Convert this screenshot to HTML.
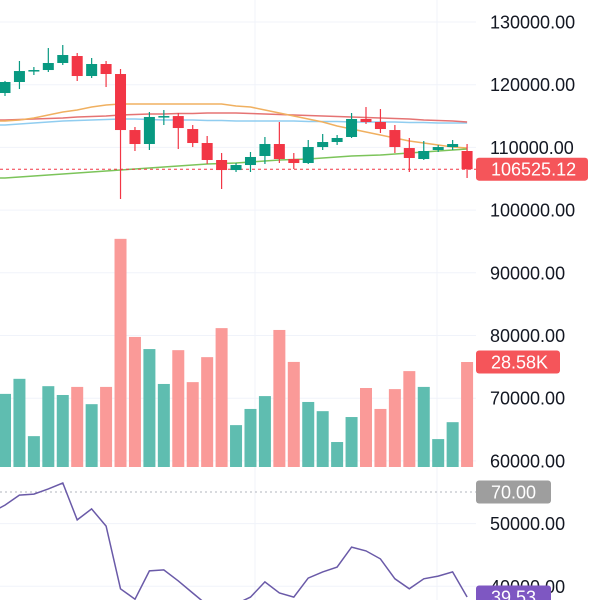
<!DOCTYPE html>
<html><head><meta charset="utf-8">
<style>
html,body{margin:0;padding:0;background:#fff;}
svg{display:block;font-family:"Liberation Sans",sans-serif;}
</style></head>
<body>
<svg id="chart" width="600" height="600" viewBox="0 0 600 600" xmlns="http://www.w3.org/2000/svg">
<rect width="600" height="600" fill="#ffffff"/>
<g id="grid"></g>
<g id="volume"></g>
<g id="mas"></g>
<g id="candles"></g>
<g id="rsi"></g>
<g id="axis"></g>
</svg>
<script>
// price data (OHLC)
const opens  = [118675,120430,122100,122340,123460,124575,121385,123300,121705,112770,110540,114850,115000,112930,110700,107990,106390,107190,108630,110540,108150,107510,110060,110860,111660,114530,114050,112770,109900,108150,109585,110060,109425];
const highs  = [120600,123780,122820,125850,126330,125055,124260,123780,122500,113250,115645,115960,115485,113570,111820,109105,107510,109265,111660,114050,109105,111180,112140,111980,115485,116440,116120,113570,111500,111020,110380,111180,110540];
const lows   = [118200,119310,121545,122025,123140,120590,121070,119630,101770,109425,109585,113570,109740,110060,107350,103365,106075,106075,107350,107510,106550,107350,109585,110380,111500,113730,112300,109105,106075,107990,109265,109585,105120];
const closes = [120430,122180,122340,123460,124735,121385,123300,121705,112770,110540,114850,115000,113090,110700,107990,106390,107190,108470,110540,108150,107510,110060,110860,111500,114530,114050,112930,110060,108310,109425,110060,110540,106525];
// volume in K
const volumes = [19.9,24.0,8.4,22.0,19.6,21.8,17.1,21.8,62.1,35.4,32.1,22.6,31.8,23.1,29.9,37.8,11.4,15.8,19.3,37.3,28.6,17.7,15.2,6.8,13.6,21.5,15.8,21.2,26.1,21.8,7.6,12.2,28.58];
// moving averages in thousands
const maOrange = [114.21,114.37,114.69,115.17,115.65,115.96,116.44,116.76,116.92,116.92,116.92,116.92,116.92,116.92,116.92,116.92,116.60,116.44,115.96,115.49,115.01,114.53,114.05,113.41,112.93,112.46,111.98,111.50,111.02,110.70,110.38,110.06,109.90];
const maRed    = [114.37,114.45,114.53,114.61,114.69,114.85,114.93,115.01,115.17,115.25,115.33,115.33,115.41,115.41,115.49,115.49,115.49,115.41,115.33,115.25,115.17,115.09,115.01,114.93,114.85,114.77,114.69,114.61,114.53,114.37,114.29,114.21,114.05];
const maBlue   = [113.57,113.73,113.89,114.05,114.21,114.29,114.37,114.45,114.53,114.53,114.45,114.37,114.37,114.37,114.29,114.29,114.21,114.21,114.21,114.21,114.21,114.13,114.13,114.13,114.05,114.05,114.05,114.05,113.97,113.97,113.89,113.89,113.89];
const maGreen  = [105.12,105.28,105.44,105.60,105.76,105.92,106.08,106.23,106.39,106.55,106.71,106.87,107.03,107.19,107.35,107.43,107.51,107.67,107.83,107.99,108.07,108.15,108.31,108.47,108.63,108.71,108.79,108.95,109.11,109.27,109.43,109.59,109.74];
// RSI
const rsiValues = [66.2,69.1,69.4,70.9,72.6,61.9,65.1,60.1,41.9,38.9,47.1,47.4,44.2,40.7,37.2,36.3,37.5,39.5,43.9,40.7,39.5,45.0,46.8,48.2,54.0,52.9,50.6,44.8,41.9,44.8,45.6,46.8,39.53];
const priceTicks = [130000,120000,110000,100000,90000,80000,70000,60000,50000,40000];
const lastPrice = 106525.12;
const lastVolume = 28.58;
const rsiLevel = 70;

const NS="http://www.w3.org/2000/svg";
function mk(tag,attrs,parent){const e=document.createElementNS(NS,tag);for(const k in attrs)e.setAttribute(k,attrs[k]);parent.appendChild(e);return e;}
const xOf = i => 5 + i*14.44;
const yP = p => 22 + (130000 - p)*0.00627;
const yV = v => 467 - v*3.674;
const yR = r => 492 + (70 - r)*3.446;
const UP="#089981", DN="#f23645", VUP="#5fbdb0", VDN="#fa9a98";

const grid=document.getElementById('grid');
priceTicks.forEach(t=>{
  const l=mk('line',{x1:0,x2:476,y1:yP(t),y2:yP(t),stroke:'#f0f3fa','stroke-width':1},grid);
  
  
});
[255,437].forEach(x=>{
  const l=mk('line',{x1:x,x2:x,y1:0,y2:600,stroke:'#f0f3fa','stroke-width':1},grid);
  
  
});

const vg=document.getElementById('volume');
volumes.forEach((v,i)=>{
  const up=closes[i]>=opens[i];
  const r=mk('rect',{x:xOf(i)-6,y:yV(v),width:12,height:467-yV(v),fill:up?VUP:VDN},vg);
  
  
});

const mg=document.getElementById('mas');
function maLine(arr,color,name){
  const d='M0,'+yP(arr[0]*1000).toFixed(1)+' '+arr.map((v,i)=>'L'+xOf(i).toFixed(1)+','+yP(v*1000).toFixed(1)).join(' ');
  const p=mk('path',{d:d,fill:'none',stroke:color,'stroke-width':1.5},mg);
  
  
}
maLine(maBlue,'#90cdf0','ma-blue');
maLine(maRed,'#e57373','ma-red');
maLine(maOrange,'#f0b060','ma-orange');
maLine(maGreen,'#7cc45a','ma-green');

const lp=mk('line',{x1:0,x2:476,y1:yP(lastPrice),y2:yP(lastPrice),stroke:'#f23645','stroke-width':1,'stroke-dasharray':'3,3'},mg);



const cg=document.getElementById('candles');
opens.forEach((o,i)=>{
  const c=closes[i], up=c>=o, col=up?UP:DN, x=xOf(i);
  const w=mk('line',{x1:x,x2:x,y1:yP(highs[i]),y2:yP(lows[i]),stroke:col,'stroke-width':1.2},cg);
  
  
  const top=yP(Math.max(o,c)), bot=yP(Math.min(o,c));
  const b=mk('rect',{x:x-5.5,y:top,width:11,height:Math.max(1.5,bot-top),fill:col},cg);
  
  
});

const rg=document.getElementById('rsi');
const rl=mk('line',{x1:0,x2:476,y1:yR(rsiLevel),y2:yR(rsiLevel),stroke:'#b2b5be','stroke-width':1,'stroke-dasharray':'2,3'},rg);


const rd=rsiValues.map((v,i)=>(i?'L':'M')+xOf(i).toFixed(1)+','+yR(v).toFixed(1)).join(' ');
const rp=mk('path',{d:'M-9,'+yR(64).toFixed(1)+' L'+rd.slice(1),fill:'none',stroke:'#6a5aa8','stroke-width':1.5},rg);



const ax=document.getElementById('axis');
priceTicks.forEach(t=>{
  const tx=mk('text',{x:490,y:yP(t)+6.5,'font-size':18,fill:'#131722'},ax);
  tx.textContent=t.toFixed(2);
  
  
});
function badge(y,w,bg,text,name){
  const g=mk('g',{},ax);
  
  
  mk('rect',{x:476,y:y-11.5,width:w,height:23,rx:3,fill:bg},g);
  const t=mk('text',{x:491,y:y+6.5,'font-size':18,fill:'#ffffff'},g);
  t.textContent=text;
}
badge(yP(lastPrice),112,'#f5555a',lastPrice.toFixed(2),'last-price-badge');
badge(yV(lastVolume),84,'#f5555a',lastVolume.toFixed(2)+'K','last-volume-badge');
badge(yR(rsiLevel),75,'#9e9e9e',rsiLevel.toFixed(2),'rsi-70-badge');
badge(yR(rsiValues[rsiValues.length-1]),75,'#7e57c2',rsiValues[rsiValues.length-1].toFixed(2),'rsi-value-badge');
</script>
</body></html>
